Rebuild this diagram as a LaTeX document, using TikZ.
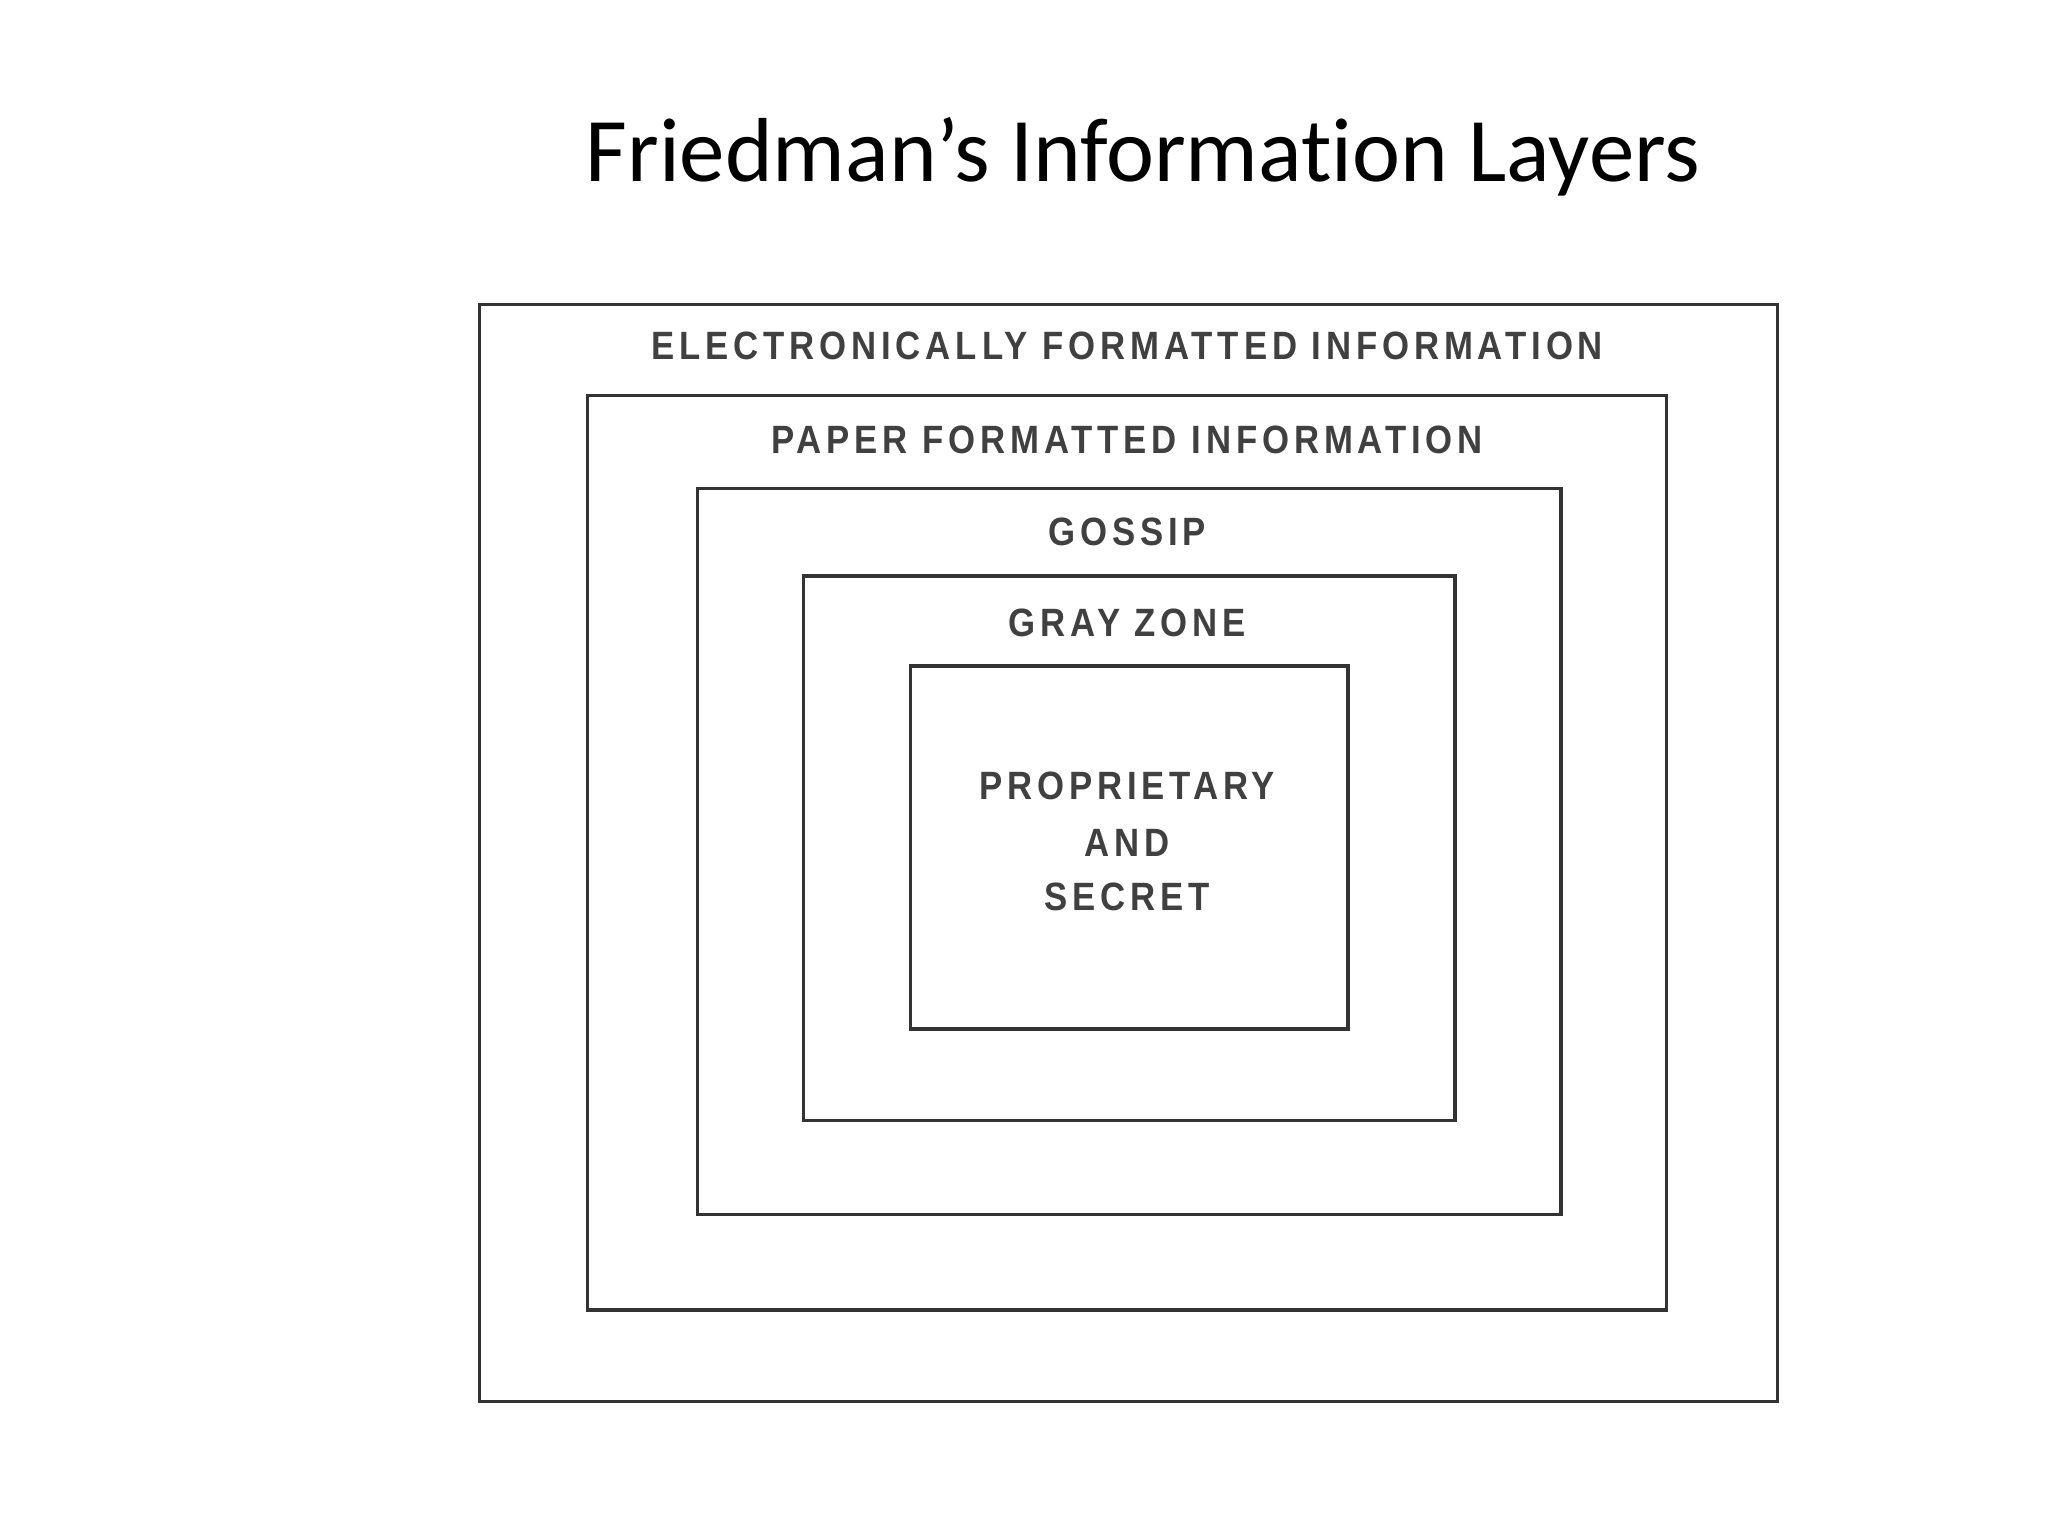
\documentclass[tikz,border=0pt]{standalone}
\usepackage{fontspec}
\setmainfont[Ligatures=NoCommon]{Carlito}
\newfontfamily\lblfont[LetterSpace=14]{Liberation Sans Bold}
\begin{document}
\begin{tikzpicture}[x=0.01cm,y=-0.01cm,
  layer/.style={draw=black!80,line width=0.75pt},
  lbl/.style={font=\lblfont\fontsize{8.6}{10}\selectfont,text=black!75,xscale=0.88,transform shape,align=center}]
\useasboundingbox (0,0) rectangle (1568,1176);
\node[font=\fontsize{19.8}{24}\selectfont] (title) at (875,120) {Friedman’s Information Layers};
\draw[layer] (367,233) rectangle (1361,1073);
\draw[layer] (450,303) rectangle (1276,1003);
\draw[layer] (534,374) rectangle (1195,930);
\draw[layer] (615,441) rectangle (1114,858);
\draw[layer] (697,510) rectangle (1032,788);
\node[lbl] (l1) at (863,265) {ELECTRONICALLY FORMATTED INFORMATION};
\node[lbl] (l2) at (863,337) {PAPER FORMATTED INFORMATION};
\node[lbl] (l3) at (863,407) {GOSSIP};
\node[lbl] (l4) at (863,477) {GRAY ZONE};
\node[lbl] (l5a) at (863,602) {PROPRIETARY};
\node[lbl] (l5b) at (863,645) {AND};
\node[lbl] (l5c) at (863,687) {SECRET};
\end{tikzpicture}
\end{document}
